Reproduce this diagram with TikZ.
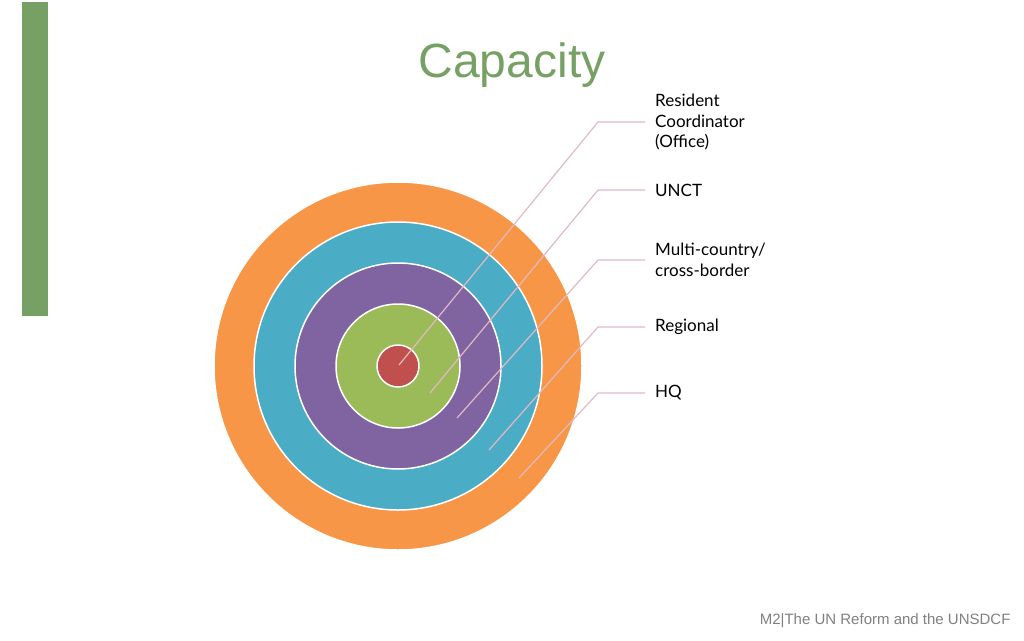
\documentclass[tikz,border=0pt]{standalone}
\usepackage{fontspec}
\setmainfont{Liberation Sans}
\newfontfamily\labelfont{Lato}
\definecolor{bargreen}{HTML}{77A065}
\definecolor{ringorange}{HTML}{F79646}
\definecolor{ringblue}{HTML}{4BACC6}
\definecolor{ringpurple}{HTML}{8064A2}
\definecolor{ringgreen}{HTML}{9BBB59}
\definecolor{ringred}{HTML}{C0504D}
\definecolor{leader}{HTML}{E2B9C2}
\begin{document}
\begin{tikzpicture}[x=1pt,y=-1pt,
ring/.style={circle, draw=white, line width=1.5pt, inner sep=0pt},
lab/.style={anchor=west, align=left, inner sep=0pt, font=\labelfont\fontsize{17}{20.5}\selectfont},
leadline/.style={draw=leader, line width=1.2pt},
]
\useasboundingbox (0,0) rectangle (1024,640);
\fill[bargreen] (22,2) rectangle (48,316);
\node (title) at (512,65) {\fontsize{48}{50}\selectfont\color{bargreen}Capacity};
\node[ring, fill=ringorange, minimum size=368pt] (hq) at (398,366) {};
\node[ring, fill=ringblue, minimum size=288pt] (reg) at (398,366) {};
\node[ring, fill=ringpurple, minimum size=206pt] (multi) at (398,366) {};
\node[ring, fill=ringgreen, minimum size=124pt] (unct) at (398,366) {};
\node[ring, fill=ringred, minimum size=42pt] (rc) at (398,366) {};
% labels
\node[lab] (lrc) at (655,122) {Resident\\Coordinator\\(Office)};
\node[lab] (lunct) at (655,190) {UNCT};
\node[lab] (lmulti) at (655,260) {Multi-country/\\cross-border};
\node[lab] (lreg) at (655,327) {Regional};
\node[lab] (lhq) at (655,393) {HQ};
% leader lines
\coordinate (prc) at (399,365);
\coordinate (punct) at (430,393);
\coordinate (pmulti) at (457,418);
\coordinate (preg) at (489,450);
\coordinate (phq) at (519,478);
\draw[leadline] (prc) -- (598,122) -- ([xshift=-10pt]lrc.west);
\draw[leadline] (punct) -- (598,190) -- ([xshift=-10pt]lunct.west);
\draw[leadline] (pmulti) -- (598,260) -- ([xshift=-10pt]lmulti.west);
\draw[leadline] (preg) -- (598,327) -- ([xshift=-10pt]lreg.west);
\draw[leadline] (phq) -- (598,393) -- ([xshift=-10pt]lhq.west);
\node[anchor=east, text=gray, font=\fontsize{15}{17}\selectfont] (foot) at (1014,621) {M2|The UN Reform and the UNSDCF};
\end{tikzpicture}
\end{document}
